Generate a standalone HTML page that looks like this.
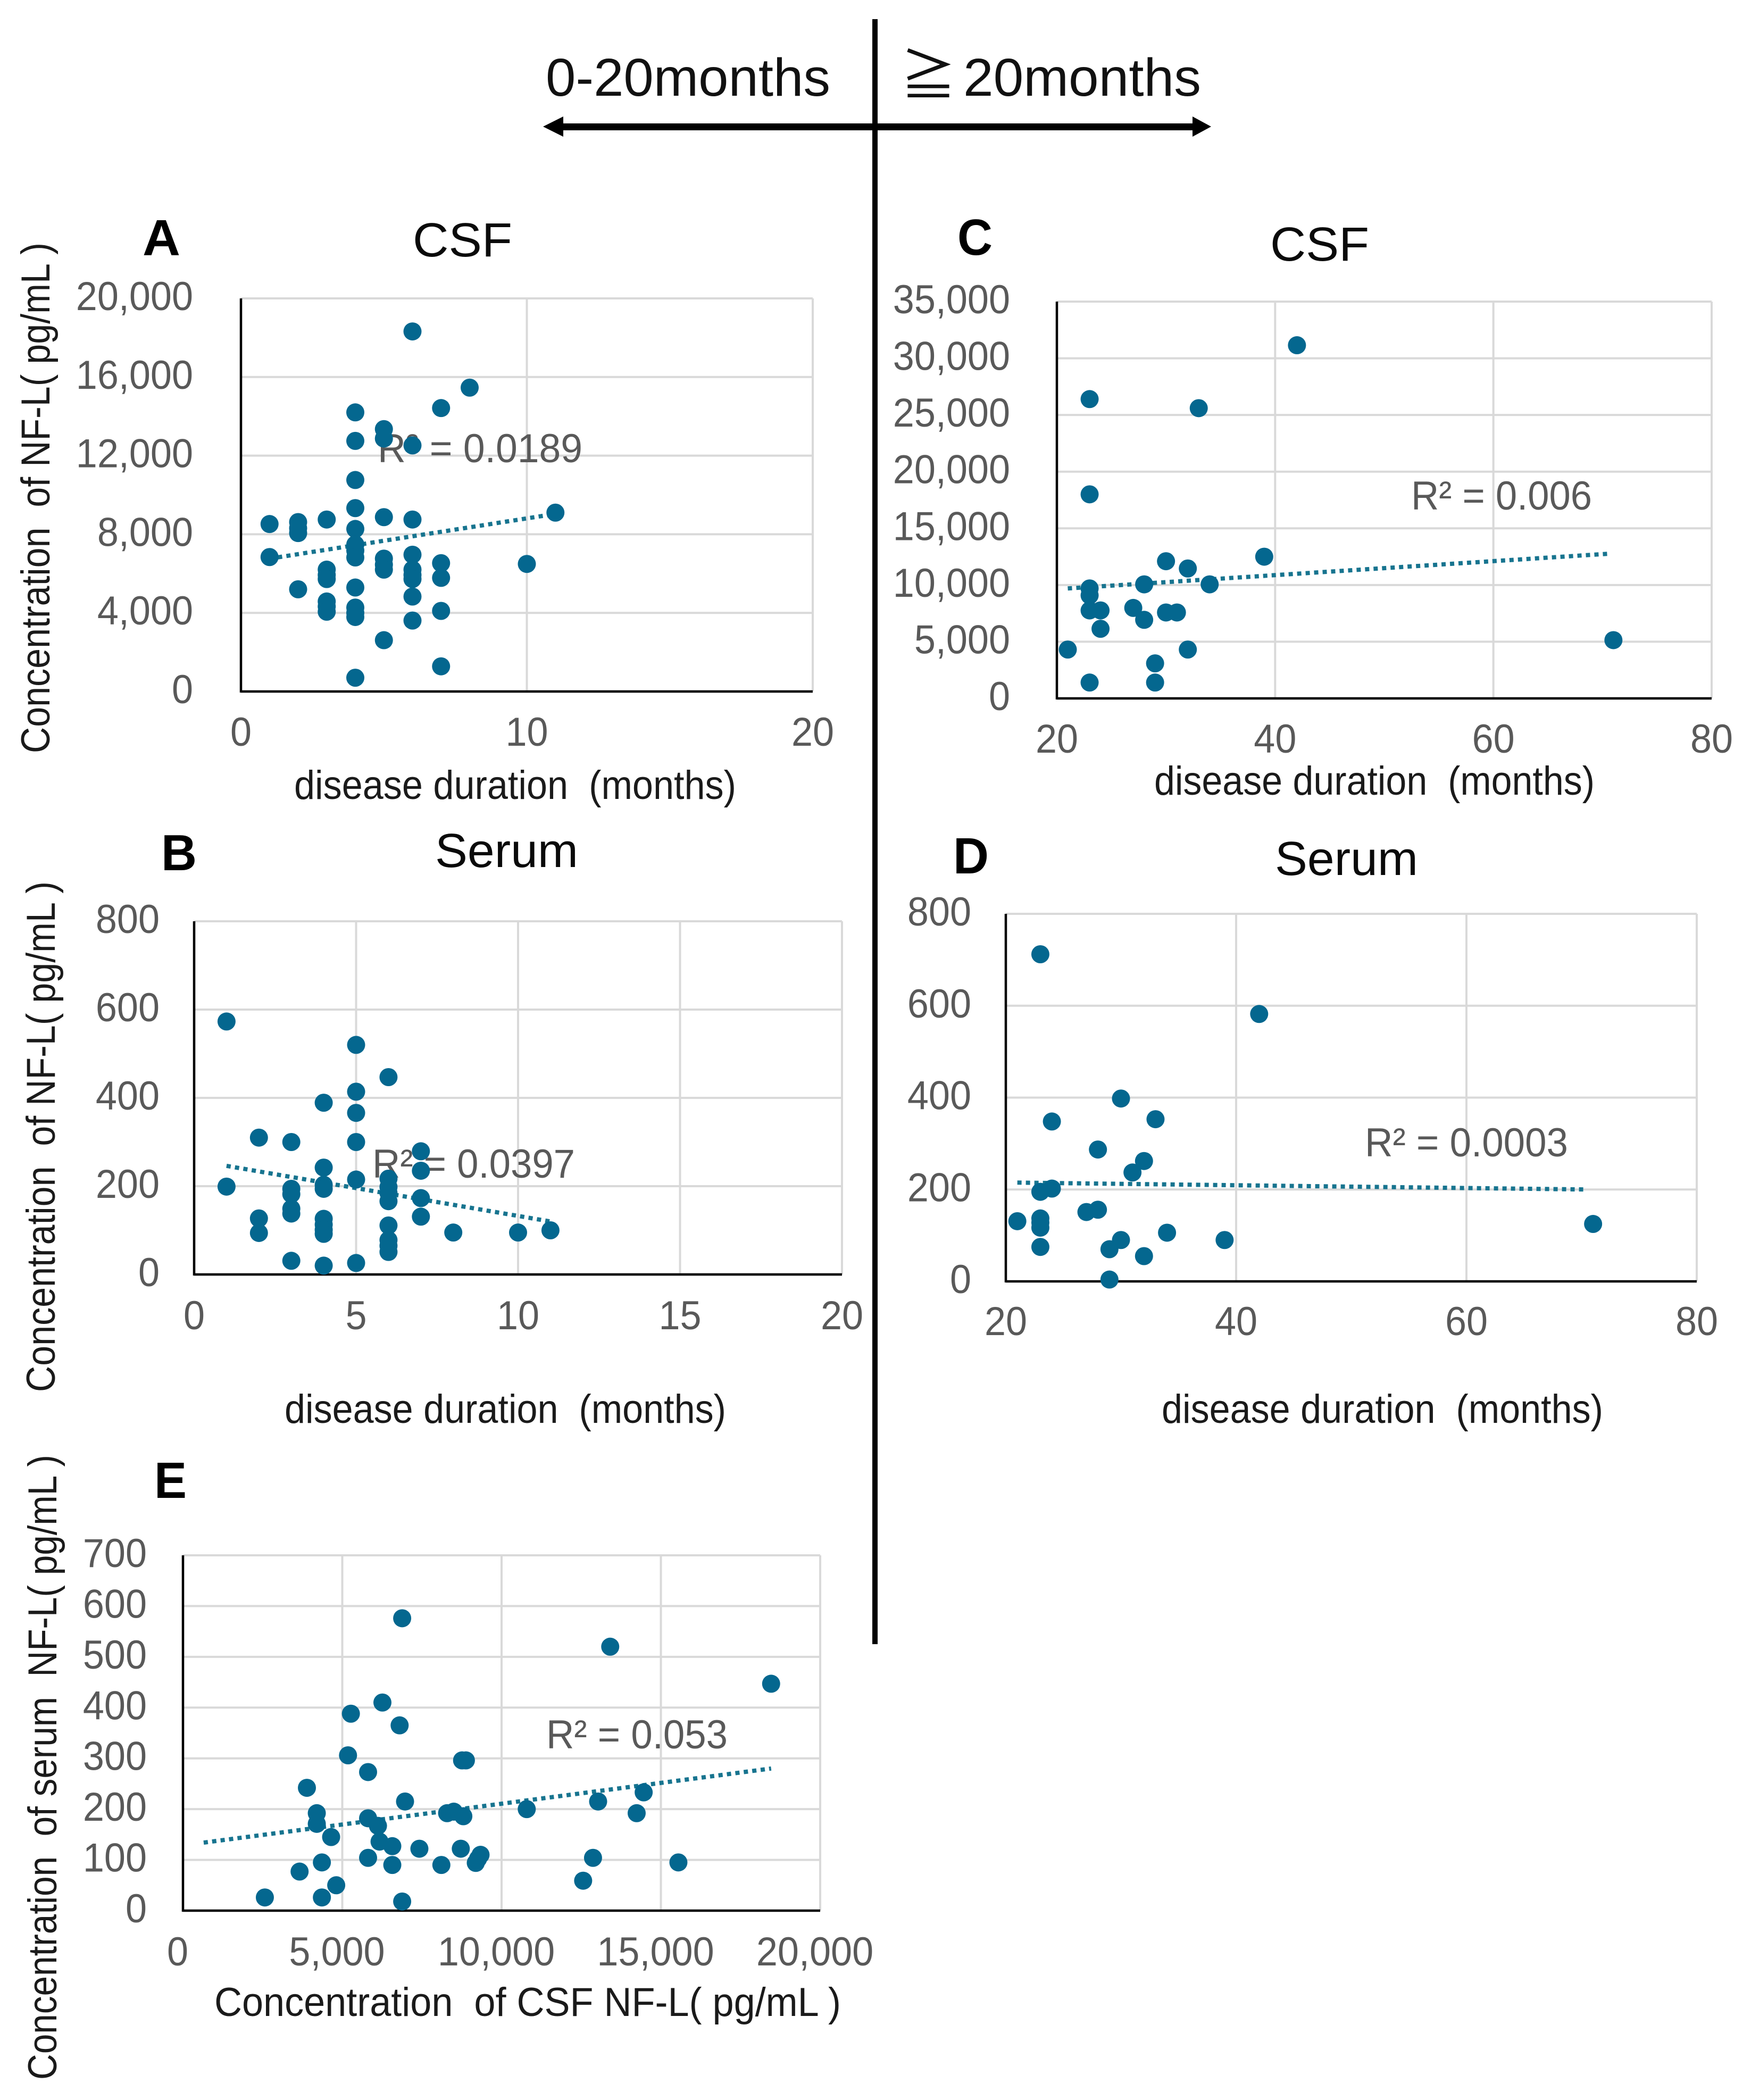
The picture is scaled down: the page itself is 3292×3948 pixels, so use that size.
<!DOCTYPE html>
<html lang="en">
<head>
<meta charset="utf-8">
<title>NF-L concentration vs disease duration</title>
<style>
html,body{margin:0;padding:0;background:#fff;}
svg{display:block;}
text{font-family:"Liberation Sans","Noto Sans CJK JP",sans-serif;}
.tick{font-size:76px;fill:#595959;}
.r2{font-size:76px;fill:#595959;}
.axis-title{font-size:76px;fill:#1a1a1a;}
.panel-title{font-size:90px;fill:#0a0a0a;}
.panel-letter{font-size:96px;font-weight:bold;fill:#000;}
.header{font-size:100px;fill:#111;}
</style>
</head>
<body>
<svg id="figure" xmlns="http://www.w3.org/2000/svg" width="3292" height="3948" viewBox="0 0 3292 3948">
  <rect x="0" y="0" width="3292" height="3948" fill="#fff"/>

  <g>
    <text class="header" x="1026" y="180" textLength="535" lengthAdjust="spacingAndGlyphs">0-20months</text>
    <text class="header" x="1693" y="178" textLength="105" lengthAdjust="spacingAndGlyphs" style="font-family:'Noto Sans CJK JP',sans-serif;font-size:103px">≧</text>
    <text class="header" x="1811" y="180" textLength="447" lengthAdjust="spacingAndGlyphs">20months</text>
    <rect x="1640" y="36" width="10" height="3055" fill="#000"/>
    <rect x="1050" y="232" width="1195" height="13" fill="#000"/>
    <polygon points="1021,238 1059,219 1059,257" fill="#000"/>
    <polygon points="2277,238 2242,219 2242,257" fill="#000"/>
  </g>

  <g>
    <text class="panel-letter" x="268" y="480" textLength="71" lengthAdjust="spacingAndGlyphs">A</text>
    <text class="panel-title" x="776" y="482" textLength="187" lengthAdjust="spacingAndGlyphs">CSF</text>
    <text class="axis-title" transform="translate(93,1416) rotate(-90)" textLength="960" lengthAdjust="spacingAndGlyphs" xml:space="preserve">Concentration  of NF-L( pg/mL )</text>
    <text class="axis-title" x="553" y="1502" textLength="831" lengthAdjust="spacingAndGlyphs" xml:space="preserve">disease duration  (months)</text>
    <g id="a-grid"></g>
    <text class="r2" x="710" y="869" textLength="385" lengthAdjust="spacingAndGlyphs">R² = 0.0189</text>
    <g id="a-marks"></g>
  </g>

  <g>
    <text class="panel-letter" x="303" y="1636" textLength="67" lengthAdjust="spacingAndGlyphs">B</text>
    <text class="panel-title" x="818" y="1630" textLength="269" lengthAdjust="spacingAndGlyphs">Serum</text>
    <text class="axis-title" transform="translate(103,2617) rotate(-90)" textLength="960" lengthAdjust="spacingAndGlyphs" xml:space="preserve">Concentration  of NF-L( pg/mL )</text>
    <text class="axis-title" x="535" y="2675" textLength="830" lengthAdjust="spacingAndGlyphs" xml:space="preserve">disease duration  (months)</text>
    <g id="b-grid"></g>
    <text class="r2" x="700" y="2214" textLength="381" lengthAdjust="spacingAndGlyphs">R² = 0.0397</text>
    <g id="b-marks"></g>
  </g>

  <g>
    <text class="panel-letter" x="1800" y="479" textLength="66" lengthAdjust="spacingAndGlyphs">C</text>
    <text class="panel-title" x="2388" y="490" textLength="186" lengthAdjust="spacingAndGlyphs">CSF</text>
    <text class="axis-title" x="2170" y="1494" textLength="828" lengthAdjust="spacingAndGlyphs" xml:space="preserve">disease duration  (months)</text>
    <g id="c-grid"></g>
    <text class="r2" x="2653" y="958" textLength="340" lengthAdjust="spacingAndGlyphs">R² = 0.006</text>
    <g id="c-marks"></g>
  </g>

  <g>
    <text class="panel-letter" x="1792" y="1642" textLength="67" lengthAdjust="spacingAndGlyphs">D</text>
    <text class="panel-title" x="2397" y="1645" textLength="269" lengthAdjust="spacingAndGlyphs">Serum</text>
    <text class="axis-title" x="2184" y="2675" textLength="830" lengthAdjust="spacingAndGlyphs" xml:space="preserve">disease duration  (months)</text>
    <g id="d-grid"></g>
    <text class="r2" x="2566" y="2174" textLength="382" lengthAdjust="spacingAndGlyphs">R² = 0.0003</text>
    <g id="d-marks"></g>
  </g>

  <g>
    <text class="panel-letter" x="290" y="2816" textLength="61" lengthAdjust="spacingAndGlyphs">E</text>
    <text class="axis-title" transform="translate(106,3910) rotate(-90)" textLength="1175" lengthAdjust="spacingAndGlyphs" xml:space="preserve">Concentration  of serum  NF-L( pg/mL )</text>
    <text class="axis-title" x="403" y="3790" textLength="1178" lengthAdjust="spacingAndGlyphs" xml:space="preserve">Concentration  of CSF NF-L( pg/mL )</text>
    <g id="e-grid"></g>
    <text class="r2" x="1027" y="3287" textLength="341" lengthAdjust="spacingAndGlyphs">R² = 0.053</text>
    <g id="e-marks"></g>
  </g>
</svg>

<script>
// Panel A: CSF NF-L vs disease duration, 0-20 months
const aMonths = [6,8,7,4,5,5,4,6,4,4,11,5,3,6,1,2,2,2,4,4,4,4,1,6,5,5,5,7,10,3,3,3,6,6,6,7,2,4,6,3,3,3,7,4,4,4,6,5,7,4];
const aNfl = [18320,15460,14420,14200,13350,12870,12750,12520,10760,9330,9100,8870,8750,8750,8520,8620,8310,8060,8270,7480,7170,6820,6840,6960,6760,6450,6200,6530,6490,6200,5930,5720,6200,5930,5720,5780,5200,5290,4830,4580,4330,4060,4100,4270,4000,3790,3610,2610,1280,700];
const aTrendX = [1,11];
const aTrendY = [6760,9035];
const aXTicks = [0,10,20];
const aXTickLabels = ["0","10","20"];
const aYTicks = [0,4000,8000,12000,16000,20000];
const aYTickLabels = ["0","4,000","8,000","12,000","16,000","20,000"];

// Panel B: serum NF-L vs disease duration, 0-20 months
const bMonths = [1,5,6,5,4,5,2,3,5,7,4,7,5,6,1,4,4,3,3,6,6,6,7,3,3,7,2,4,4,4,4,2,6,11,8,10,6,6,6,3,5,4];
const bNfl = [573,520,447,414,389,366,310,300,300,279,242,235,215,217,199,203,194,194,182,198,185,166,173,149,138,131,127,126,113,101,92,94,111,100,95,95,78,65,51,31,26,20];
const bTrendX = [1,11];
const bTrendY = [246,120];
const bXTicks = [0,5,10,15,20];
const bXTickLabels = ["0","5","10","15","20"];
const bYTicks = [0,200,400,600,800];
const bYTickLabels = ["0","200","400","600","800"];

// Panel C: CSF NF-L vs disease duration, 20 months or more
const cMonths = [42,23,33,23,39,30,32,28,34,23,23,23,24,27,28,30,31,24,21,32,71,29,23,29];
const cNfl = [31150,26400,25600,18000,12500,12100,11460,10060,10060,9700,9090,7760,7760,7980,6930,7580,7580,6140,4310,4310,5140,3090,1400,1400];
const cTrendX = [21,70.5];
const cTrendY = [9700,12756];
const cXTicks = [20,40,60,80];
const cXTickLabels = ["20","40","60","80"];
const cYTicks = [0,5000,10000,15000,20000,25000,30000,35000];
const cYTickLabels = ["0","5,000","10,000","15,000","20,000","25,000","30,000","35,000"];

// Panel D: serum NF-L vs disease duration, 20 months or more
const dMonths = [23,42,30,33,24,28,32,31,24,23,28,27,21,23,23,23,71,34,39,30,29,23,32,29];
const dNfl = [712,582,398,353,348,287,262,237,202,195,156,151,131,137,128,117,125,106,90,90,70,75,55,4];
const dTrendX = [21,70.5];
const dTrendY = [215,200];
const dXTicks = [20,40,60,80];
const dXTickLabels = ["20","40","60","80"];
const dYTicks = [0,200,400,600,800];
const dYTickLabels = ["0","200","400","600","800"];

// Panel E: serum NF-L vs CSF NF-L
const eCsf = [6880,13410,18460,6260,5270,6800,5180,8760,8880,5810,3890,6970,14460,13030,10790,14240,4200,4200,5810,8290,8500,8800,6120,4650,6170,6570,7420,8720,9340,9260,9190,5810,12870,15550,8110,6570,4360,3660,4810,12560,2570,4360,6880];
const eSerum = [576,520,447,410,388,365,306,296,296,273,242,215,233,215,200,192,192,171,182,192,195,186,167,145,136,127,122,122,110,102,94,104,104,95,90,90,95,77,50,59,26,26,18];
const eTrendX = [650,18460];
const eTrendY = [134,280];
const eXTicks = [0,5000,10000,15000,20000];
const eXTickLabels = ["0","5,000","10,000","15,000","20,000"];
const eYTicks = [0,100,200,300,400,500,600,700];
const eYTickLabels = ["0","100","200","300","400","500","600","700"];

const SVG_NS = "http://www.w3.org/2000/svg";

function makeNode(tag, attrs, parent) {
  const node = document.createElementNS(SVG_NS, tag);
  Object.keys(attrs).forEach(function (key) { node.setAttribute(key, attrs[key]); });
  parent.appendChild(node);
  return node;
}

function linearAxis(domainMin, domainMax, rangeMin, rangeMax) {
  return function (value) {
    return rangeMin + (value - domainMin) / (domainMax - domainMin) * (rangeMax - rangeMin);
  };
}

function narrowLabel(label) {
  label.setAttribute("textLength", label.getComputedTextLength() * 72 / 76);
  label.setAttribute("lengthAdjust", "spacingAndGlyphs");
}

function drawPanel(id, box, xs, ys, trendX, trendY, xTicks, xTickLabels, yTicks, yTickLabels) {
  const gridLayer = document.getElementById(id + "-grid");
  const markLayer = document.getElementById(id + "-marks");
  const xAxis = linearAxis(xTicks[0], xTicks[xTicks.length - 1], box.left, box.right);
  const yAxis = linearAxis(yTicks[0], yTicks[yTicks.length - 1], box.bottom, box.top);

  xTicks.forEach(function (tick, i) {
    if (i > 0) {
      const grid = makeNode("line", {x1: xAxis(tick), x2: xAxis(tick), y1: box.top, y2: box.bottom, stroke: "#d9d9d9", "stroke-width": 4}, gridLayer);
      
      
    }
    const label = makeNode("text", {x: xAxis(tick) + box.xLabelDx, y: box.xLabelY, "text-anchor": "middle", class: "tick"}, gridLayer);
    label.textContent = xTickLabels[i];
    narrowLabel(label);
    
    
  });

  yTicks.forEach(function (tick, i) {
    if (i > 0) {
      const grid = makeNode("line", {x1: box.left, x2: box.right, y1: yAxis(tick), y2: yAxis(tick), stroke: "#d9d9d9", "stroke-width": 4}, gridLayer);
      
      
    }
    const label = makeNode("text", {x: box.yLabelX, y: yAxis(tick) + 22, "text-anchor": "end", class: "tick"}, gridLayer);
    label.textContent = yTickLabels[i];
    narrowLabel(label);
    
    
  });

  const yLine = makeNode("line", {x1: box.left, x2: box.left, y1: box.top, y2: box.bottom + 2, stroke: "#000", "stroke-width": 4.5}, gridLayer);
  
  
  const xLine = makeNode("line", {x1: box.left, x2: box.right, y1: box.bottom, y2: box.bottom, stroke: "#000", "stroke-width": 4.5}, gridLayer);
  
  

  const trend = makeNode("line", {x1: xAxis(trendX[0]), y1: yAxis(trendY[0]), x2: xAxis(trendX[1]), y2: yAxis(trendY[1]), stroke: "#17748f", "stroke-width": 8, "stroke-dasharray": "8 8"}, markLayer);
  
  

  xs.forEach(function (value, i) {
    const dot = makeNode("circle", {cx: xAxis(value), cy: yAxis(ys[i]), r: 17, fill: "#04678f"}, markLayer);
    
    
  });
}

drawPanel("a", {left: 453, right: 1528, top: 561, bottom: 1300, xLabelY: 1402, xLabelDx: 0, yLabelX: 363},
  aMonths, aNfl, aTrendX, aTrendY, aXTicks, aXTickLabels, aYTicks, aYTickLabels);
drawPanel("b", {left: 365, right: 1583, top: 1732, bottom: 2396, xLabelY: 2499, xLabelDx: 0, yLabelX: 300},
  bMonths, bNfl, bTrendX, bTrendY, bXTicks, bXTickLabels, bYTicks, bYTickLabels);
drawPanel("c", {left: 1987, right: 3218, top: 567, bottom: 1313, xLabelY: 1415, xLabelDx: 0, yLabelX: 1899},
  cMonths, cNfl, cTrendX, cTrendY, cXTicks, cXTickLabels, cYTicks, cYTickLabels);
drawPanel("d", {left: 1891, right: 3190, top: 1718, bottom: 2409, xLabelY: 2510, xLabelDx: 0, yLabelX: 1826},
  dMonths, dNfl, dTrendX, dTrendY, dXTicks, dXTickLabels, dYTicks, dYTickLabels);
drawPanel("e", {left: 344, right: 1542, top: 2924, bottom: 3592, xLabelY: 3695, xLabelDx: -10, yLabelX: 276},
  eCsf, eSerum, eTrendX, eTrendY, eXTicks, eXTickLabels, eYTicks, eYTickLabels);
</script>
</body>
</html>
